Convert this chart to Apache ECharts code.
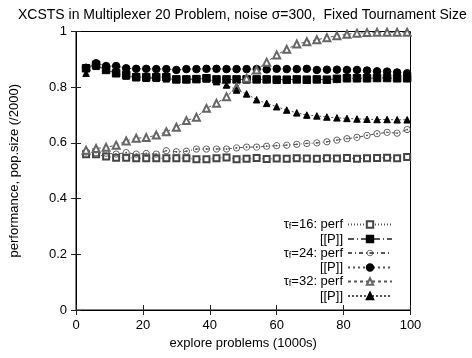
<!DOCTYPE html>
<html>
<head>
<meta charset="utf-8">
<script src="https://cdn.jsdelivr.net/npm/echarts@6/dist/echarts.min.js"></script>
<style>html,body{margin:0;padding:0;background:#fff}#c{width:472px;height:358px}</style>
</head>
<body>
<div id="c"></div>
<script>
const explore = [3,6,9,12,15,18,21,24,27,30,33,36,39,42,45,48,51,54,57,60,63,66,69,72,75,78,81,84,87,90,93,96,99];
const perf16 = [0.559,0.559,0.551,0.547,0.547,0.545,0.545,0.545,0.545,0.545,0.545,0.541,0.541,0.545,0.548,0.541,0.543,0.546,0.542,0.544,0.543,0.545,0.544,0.543,0.545,0.544,0.546,0.543,0.545,0.546,0.547,0.545,0.549];
const pop16 = [0.868,0.880,0.862,0.850,0.844,0.836,0.836,0.836,0.836,0.828,0.828,0.829,0.832,0.828,0.828,0.828,0.828,0.828,0.828,0.827,0.827,0.828,0.827,0.828,0.827,0.830,0.832,0.832,0.832,0.833,0.833,0.832,0.832];
const perf24 = [0.567,0.565,0.563,0.560,0.565,0.560,0.562,0.560,0.572,0.568,0.570,0.578,0.578,0.578,0.578,0.582,0.585,0.585,0.588,0.590,0.592,0.595,0.598,0.600,0.604,0.610,0.615,0.620,0.627,0.633,0.638,0.635,0.648];
const pop24 = [0.870,0.886,0.876,0.876,0.868,0.866,0.866,0.865,0.865,0.862,0.865,0.865,0.866,0.866,0.865,0.865,0.865,0.865,0.864,0.866,0.865,0.865,0.866,0.862,0.863,0.863,0.862,0.862,0.860,0.857,0.856,0.853,0.850];
const perf32 = [0.574,0.580,0.584,0.592,0.607,0.617,0.619,0.628,0.640,0.656,0.680,0.692,0.724,0.742,0.766,0.800,0.832,0.862,0.890,0.916,0.936,0.955,0.963,0.970,0.978,0.985,0.990,0.994,0.996,0.997,0.997,0.997,0.997];
const pop32 = [0.850,0.875,0.865,0.850,0.840,0.835,0.832,0.832,0.830,0.828,0.828,0.830,0.830,0.820,0.808,0.790,0.776,0.755,0.742,0.730,0.718,0.708,0.700,0.697,0.693,0.690,0.688,0.686,0.685,0.684,0.684,0.683,0.683];
const xTicks = [0,20,40,60,80,100];
const yTicks = [0,0.2,0.4,0.6,0.8,1];

const names = ['t16perf','t16pop','t24perf','t24pop','t32perf','t32pop'];
const labels = {
  t16perf: '{t|τ}{s|f}{t|=16: perf}',
  t16pop: '{t|[[P]]}',
  t24perf: '{t|τ}{s|f}{t|=24: perf}',
  t24pop: '{t|[[P]]}',
  t32perf: '{t|τ}{s|f}{t|=32: perf}',
  t32pop: '{t|[[P]]}'
};

// ring-with-dot marker (polygon contours: outer clockwise, inner counter-clockwise, dot clockwise)
function contour(r, cw){
  const n = 24, pts = [];
  for (let i = 0; i < n; i++) {
    const a = (cw ? 1 : -1) * i * 2 * Math.PI / n;
    pts.push((10 + r * Math.cos(a)).toFixed(3) + ',' + (10 + r * Math.sin(a)).toFixed(3));
  }
  return 'M' + pts.join(' L') + ' Z';
}
const dotCircle = 'path://' + contour(10, true) + ' ' + contour(7.6, false) + ' ' + contour(2.6, true);

function pairs(ys){ return explore.map((x,i)=>[x, ys[i]]); }
function mk(name, ys, symbol, size, color, lineType, extra){
  return Object.assign({
    name: name, type: 'line', data: pairs(ys),
    symbol: symbol, symbolSize: size, showSymbol: true,
    lineStyle: {color: '#555', width: 1, type: lineType},
    itemStyle: {color: color, borderColor: color, borderWidth: 1},
    emphasis: {disabled: true},
    animation: false
  }, extra || {});
}

const chart = echarts.init(document.getElementById('c'), null, {renderer: 'canvas'});
const font = '"Liberation Sans", Arial, Helvetica, sans-serif';
const axisCommon = {
  type: 'value', min: 0, max: 100, interval: 20,
  axisLine: {lineStyle: {color: '#000', width: 1}},
  axisTick: {inside: true, length: 5, lineStyle: {color: '#222'}},
  splitLine: {show: false}
};
chart.setOption({
  animation: false,
  textStyle: {fontFamily: font},
  title: {
    text: 'XCSTS in Multiplexer 20 Problem, noise σ=300,  Fixed Tournament Size',
    left: 13, top: 3,
    textStyle: {fontSize: 14, fontWeight: 'normal', color: '#000', fontFamily: font}
  },
  grid: {left: 75.5, right: 61.5, top: 31.5, bottom: 48, show: true, borderColor: '#000', borderWidth: 1},
  legend: {
    orient: 'vertical', align: 'right', right: 74, top: 213,
    itemWidth: 44, itemHeight: 8, itemGap: 1,
    data: names,
    formatter: n => labels[n],
    textStyle: {
      fontFamily: font, fontSize: 13, color: '#000',
      rich: {
        t: {fontSize: 13, lineHeight: 14, fontFamily: font, color: '#000'},
        s: {fontSize: 9, lineHeight: 8, verticalAlign: 'bottom', fontFamily: font, color: '#000'}
      }
    },
    selectedMode: false
  },
  xAxis: [
    Object.assign({}, axisCommon, {
      position: 'bottom',
      axisLabel: {fontSize: 13, color: '#000', margin: 9, fontFamily: font},
      name: 'explore problems (1000s)', nameLocation: 'middle', nameGap: 27,
      nameTextStyle: {fontSize: 13, color: '#000', fontFamily: font}
    }),
    Object.assign({}, axisCommon, {position: 'top', axisLabel: {show: false}})
  ],
  yAxis: [
    {
      type: 'value', min: 0, max: 1, interval: 0.2, position: 'left',
      axisLine: {show: true, lineStyle: {color: '#000', width: 1}},
      axisTick: {show: true, inside: true, length: 5, lineStyle: {color: '#222'}},
      splitLine: {show: false},
      axisLabel: {fontSize: 13, color: '#000', margin: 9, fontFamily: font,
        formatter: v => String(yTicks.find(t => Math.abs(t - v) < 1e-9) ?? v)},
      name: 'performance, pop.size (/2000)', nameLocation: 'middle', nameGap: 55, nameRotate: 90,
      nameTextStyle: {fontSize: 13, color: '#000', fontFamily: font}
    },
    {
      type: 'value', min: 0, max: 1, interval: 0.2, position: 'right',
      axisLine: {show: true, lineStyle: {color: '#000', width: 1}},
      axisTick: {show: true, inside: true, length: 5, lineStyle: {color: '#222'}},
      splitLine: {show: false}, axisLabel: {show: false}
    }
  ],
  series: [
    mk('t16perf', perf16, 'emptyRect', 6, '#444', [1,2]),
    mk('t16pop', pop16, 'rect', 7.5, '#000', [6,3,1,3]),
    mk('t24perf', perf24, dotCircle, 7, '#555', [4,3,1,3], {itemStyle: {color: '#555', borderWidth: 0}}),
    mk('t24pop', pop24, 'circle', 7.5, '#000', [2,3]),
    mk('t32perf', perf32, 'emptyTriangle', 7, '#666', [3,3]),
    mk('t32pop', pop32, 'triangle', 6.5, '#000', [2,2])
  ]
});
</script>
</body>
</html>
